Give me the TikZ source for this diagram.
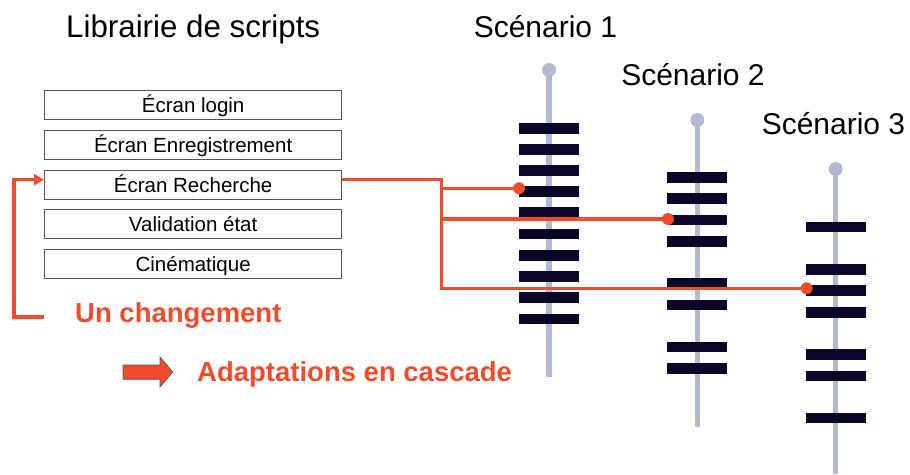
\documentclass[tikz,border=0pt]{standalone}
\usepackage{fontspec}
\setmainfont{Liberation Sans}
\usetikzlibrary{arrows.meta}
\definecolor{alert}{RGB}{240,76,44}
\definecolor{spine}{RGB}{178,185,208}
\definecolor{barcol}{RGB}{10,6,40}
\definecolor{frame}{RGB}{85,85,85}

\begin{document}
\begin{tikzpicture}[x=1pt,y=-1pt,
  scriptbox/.style={draw=frame,line width=1.3pt,minimum width=297pt,minimum height=29pt,inner sep=0pt,anchor=north west},
  boxlabel/.style={font=\fontsize{20.5}{24}\selectfont,anchor=base,inner sep=0pt},
  heading/.style={font=\fontsize{30}{36}\selectfont,anchor=base,inner sep=0pt},
  spineline/.style={draw=spine,line width=5.5pt},
  knob/.style={circle,fill=spine,minimum size=14pt,inner sep=0pt},
  stepbar/.style={fill=barcol,minimum width=60pt,minimum height=10.5pt,inner sep=0pt},
  link/.style={draw=alert,line width=3.5pt},
  hit/.style={circle,fill=alert,minimum size=12pt,inner sep=0pt},
  note/.style={font=\bfseries\fontsize{27.5}{32}\selectfont,text=alert,anchor=base west,inner sep=0pt}]

\useasboundingbox (0,0) rectangle (910,474);

% --- script library -------------------------------------------------
\node[heading,anchor=base west,font=\fontsize{31.3}{36}\selectfont] (libtitle) at (66,37) {Librairie de scripts};

\node[scriptbox] (login) at (44,90)  {};
\node[scriptbox] (enreg) at (44,130) {};
\node[scriptbox] (rech)  at (44,170) {};
\node[scriptbox] (valid) at (44,209) {};
\node[scriptbox] (cine)  at (44,249) {};

\node[boxlabel] (loginlbl) at ([yshift=-7pt]login.center) {Écran login};
\node[boxlabel] (enreglbl) at ([yshift=-7pt]enreg.center) {Écran Enregistrement};
\node[boxlabel] (rechlbl)  at ([yshift=-7pt]rech.center)  {Écran Recherche};
\node[boxlabel] (validlbl) at ([yshift=-7pt]valid.center) {Validation état};
\node[boxlabel] (cinelbl)  at ([yshift=-7pt]cine.center)  {Cinématique};

% --- scenarios --------------------------------------------------------
\node[heading] (s1title) at (545.5,37)  {Scénario 1};
\node[heading] (s2title) at (693,85)    {Scénario 2};
\node[heading] (s3title) at (833.5,134) {Scénario 3};

% scenario 1
\draw[spineline] (549,70) -- (549,377);
\node[knob] (k1) at (549,70) {};
\foreach \y [count=\i] in {128.3,149.3,170.7,191.7,212.5,234,255.3,276.7,297.5,319}
  \node[stepbar] (a\i) at (549,\y) {};

% scenario 2
\draw[spineline] (697.3,120) -- (697.3,427);
\node[knob] (k2) at (697.3,120) {};
\foreach \y [count=\i] in {177.5,198.7,220,241.7,283.3,305,347,368.7}
  \node[stepbar] (b\i) at (697.3,\y) {};

% scenario 3
\draw[spineline] (835.7,169) -- (835.7,474);
\node[knob] (k3) at (835.7,169) {};
\foreach \y [count=\i] in {227,269.5,290.5,312.5,354.5,376,418}
  \node[stepbar] (c\i) at (835.7,\y) {};

% --- propagation of the change -----------------------------------------
\node[hit] (d1) at (519,188.3) {};
\node[hit] (d2) at (668,219) {};
\node[hit] (d3) at (806.7,288.3) {};

\coordinate (out) at ([yshift=5.5pt]rech.east);
\path (out) ++(99,0) coordinate (split);
\draw[link] (out) -- (split) |- (d3.center);
\draw[link] (split |- d1) -- (d1.center);
\draw[link] (split |- d2) -- (d2.center);

% feedback loop into the changed script
\coordinate (loop) at (44,317);
\draw[link,-{Triangle[length=10pt,width=11pt]}] (loop) -- ++(-30,0) |- ([yshift=5.5pt]rech.west);

\node[note] (change) at (75,322) {Un changement};

% block arrow and consequence
\draw[fill=alert,draw=black!65,line width=0.8pt]
  (123,365) -- (160,365) -- (160,357) -- (172.7,372) -- (160,387) -- (160,379.3) -- (123,379.3) -- cycle;
\node[note] (cascade) at (197,381) {Adaptations en cascade};

\end{tikzpicture}
\end{document}
